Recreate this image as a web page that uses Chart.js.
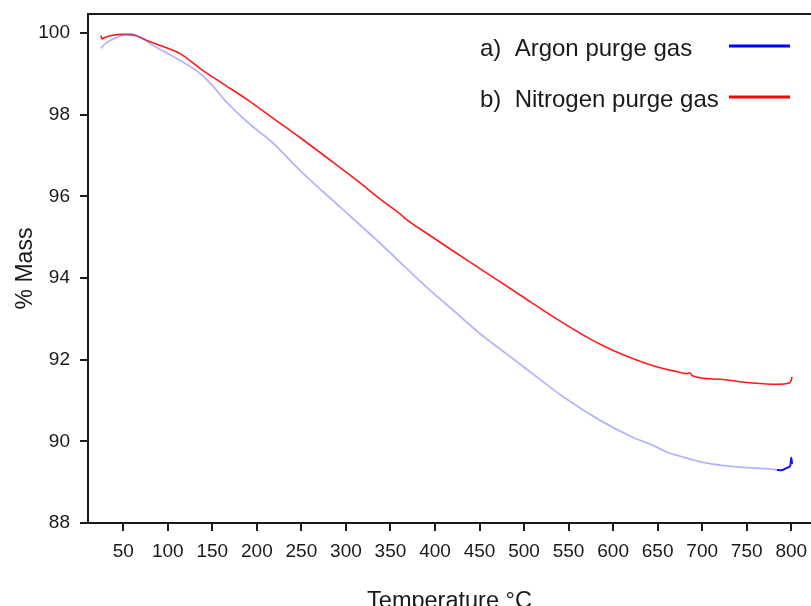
<!DOCTYPE html>
<html>
<head>
<meta charset="utf-8">
<title>TGA mass loss</title>
<script src="https://cdn.jsdelivr.net/npm/chart.js@4/dist/chart.umd.min.js"></script>
<style>
  html, body { margin: 0; padding: 0; background: #fff; overflow: hidden; }
  canvas { display: block; }
</style>
</head>
<body>
<canvas id="tgaChart" width="811" height="606"></canvas>
<script>
// TGA runs: temperature (°C) and remaining mass (%)
const argonTemp = [25, 30, 41, 50, 58, 70, 80, 100, 114, 136, 150, 164, 189, 218, 248, 260, 293, 338, 394, 420, 450, 480, 507, 546, 585, 622, 645, 660, 675, 698, 735, 772, 784, 789, 795, 799, 800, 801];
const argonMass = [99.63, 99.75, 99.88, 99.95, 99.98, 99.90, 99.75, 99.50, 99.33, 99.02, 98.72, 98.36, 97.83, 97.31, 96.65, 96.40, 95.75, 94.86, 93.71, 93.22, 92.65, 92.15, 91.70, 91.06, 90.52, 90.10, 89.90, 89.74, 89.64, 89.50, 89.38, 89.33, 89.30, 89.29, 89.35, 89.40, 89.60, 89.45];

const nitrogenTemp = [25, 26, 30, 38, 50, 62, 80, 100, 114, 136, 160, 190, 220, 248, 280, 312, 340, 362, 366, 394, 420, 450, 496, 533, 570, 590, 608, 645, 671, 682, 686, 689, 720, 757, 784, 798, 800, 801];
const nitrogenMass = [99.94, 99.86, 99.90, 99.95, 99.97, 99.95, 99.79, 99.63, 99.50, 99.14, 98.79, 98.36, 97.89, 97.45, 96.93, 96.40, 95.91, 95.55, 95.47, 95.05, 94.67, 94.24, 93.58, 93.05, 92.56, 92.33, 92.15, 91.85, 91.71, 91.66, 91.68, 91.61, 91.52, 91.43, 91.40, 91.43, 91.50, 91.58];

const tempTicks = [50, 100, 150, 200, 250, 300, 350, 400, 450, 500, 550, 600, 650, 700, 750, 800];
const massTicks = [88, 90, 92, 94, 96, 98, 100];

const legendLabels = ["a)  Argon purge gas", "b)  Nitrogen purge gas"];
const legendColors = ["#0000ff", "#ff0000"];

const FONT = "'Liberation Sans', Arial, Helvetica, sans-serif";
const INK = "#1a1a1a";

function toPoints(xs, ys) {
  return xs.map((x, i) => ({ x: x, y: ys[i] }));
}

// closes the box along the top of the plot
const topFrame = {
  id: "topFrame",
  afterDraw(chart) {
    const { ctx, chartArea } = chart;
    ctx.save();
    ctx.strokeStyle = INK;
    ctx.lineWidth = 2;
    ctx.beginPath();
    ctx.moveTo(chartArea.left - 1, chartArea.top);
    ctx.lineTo(chartArea.right, chartArea.top);
    ctx.stroke();
    ctx.restore();
  }
};

// text first, line sample after it
const sideLegend = {
  id: "sideLegend",
  afterDraw(chart) {
    const ctx = chart.ctx;
    const rows = [56, 107];
    ctx.save();
    ctx.font = "24px " + FONT;
    ctx.fillStyle = INK;
    ctx.textBaseline = "alphabetic";
    ctx.textAlign = "left";
    legendLabels.forEach((label, i) => {
      ctx.fillText(label, 480, rows[i]);
      ctx.strokeStyle = legendColors[i];
      ctx.lineWidth = 3;
      ctx.beginPath();
      ctx.moveTo(729, rows[i] - 10);
      ctx.lineTo(790, rows[i] - 10);
      ctx.stroke();
    });
    ctx.restore();
  }
};

new Chart(document.getElementById("tgaChart"), {
  type: "line",
  data: {
    datasets: [
      {
        label: "Argon purge gas",
        data: toPoints(argonTemp, argonMass),
        borderColor: "rgba(90, 90, 255, 0.45)",
        borderWidth: 1.8,
        pointRadius: 0,
        cubicInterpolationMode: "monotone",
        segment: {
          borderColor: c => (c.p0.parsed.x >= 784 ? "#1010ff" : undefined),
          borderWidth: c => (c.p0.parsed.x >= 784 ? 2 : undefined)
        }
      },
      {
        label: "Nitrogen purge gas",
        data: toPoints(nitrogenTemp, nitrogenMass),
        borderColor: "#ff1a1a",
        borderWidth: 1.6,
        pointRadius: 0,
        cubicInterpolationMode: "monotone"
      }
    ]
  },
  options: {
    responsive: false,
    animation: false,
    devicePixelRatio: 1,
    layout: { padding: { top: 14, left: 0, right: 0, bottom: 0 } },
    plugins: {
      legend: { display: false },
      tooltip: { enabled: false }
    },
    scales: {
      x: {
        type: "linear",
        min: 10.4,
        max: 822.2,
        afterBuildTicks: s => { s.ticks = tempTicks.map(v => ({ value: v })); },
        afterFit: s => { s.height = 83; s.paddingLeft = 0; s.paddingRight = 0; },
        border: { color: INK, width: 2 },
        grid: { drawOnChartArea: false, color: INK, lineWidth: 2, tickLength: 8 },
        ticks: { color: INK, font: { family: FONT, size: 19 }, padding: 9, maxRotation: 0 },
        title: {
          display: true,
          text: "Temperature °C",
          color: INK,
          font: { family: FONT, size: 23.5 },
          padding: { top: 0, bottom: -10 }
        }
      },
      y: {
        min: 88,
        max: 100.47,
        afterBuildTicks: s => { s.ticks = massTicks.map(v => ({ value: v })); },
        afterFit: s => { s.width = 88; s.paddingTop = 0; s.paddingBottom = 0; },
        border: { color: INK, width: 2 },
        grid: { drawOnChartArea: false, color: INK, lineWidth: 2, tickLength: 8 },
        ticks: { color: INK, font: { family: FONT, size: 19 }, padding: 10 },
        title: {
          display: true,
          text: "% Mass",
          color: INK,
          font: { family: FONT, size: 23 },
          padding: { top: 12, bottom: 0 }
        }
      }
    }
  },
  plugins: [topFrame, sideLegend]
});
</script>
</body>
</html>
